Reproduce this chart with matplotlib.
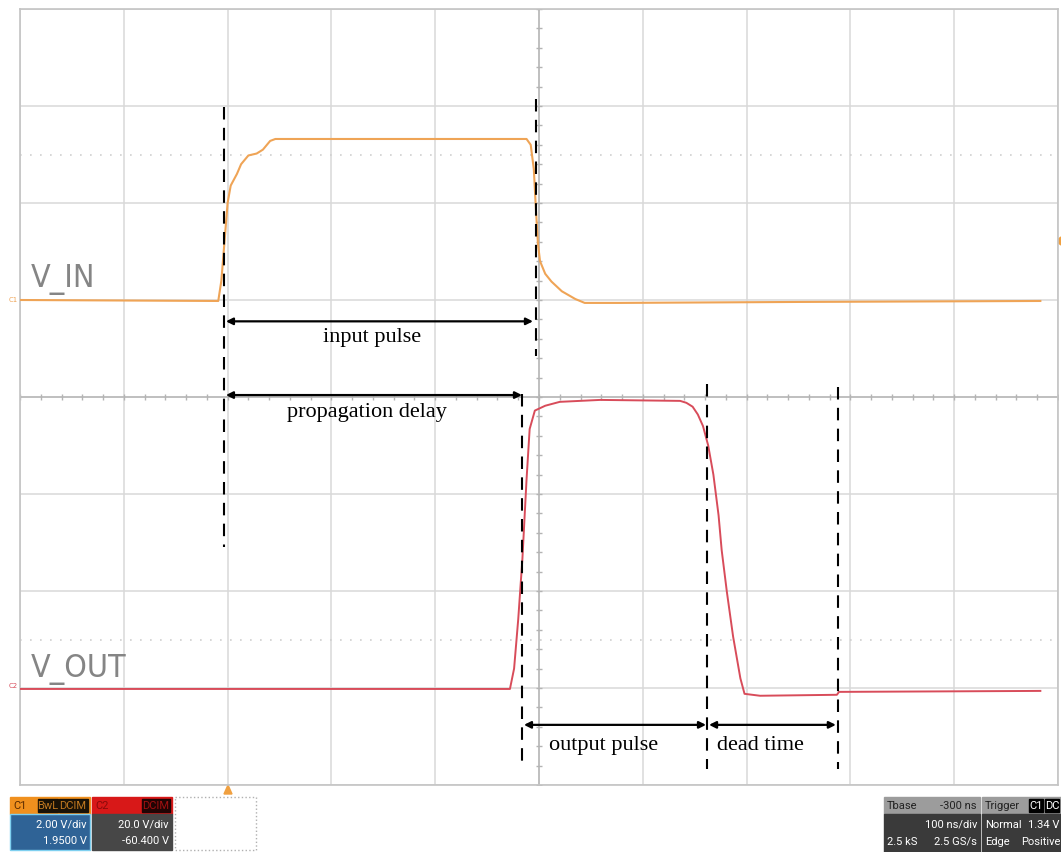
import numpy as np
import matplotlib.pyplot as plt
from matplotlib.patches import Rectangle, Polygon

# scope trace, time in ns (100 ns/div), level in divisions
vin_t = [-500, -309, -306, -303, -300, -297, -291, -287, -280, -272, -266, -259, -254,
         -12, -8, -5, -3, -1, 1, 6, 12, 22, 35, 44, 78, 251, 483]
vin_v = [1.0, 0.99, 1.2, 1.6, 2.0, 2.18, 2.3, 2.4, 2.49, 2.51, 2.55, 2.64, 2.66,
         2.66, 2.60, 2.35, 1.94, 1.58, 1.40, 1.27, 1.19, 1.09, 1.01, 0.97, 0.97, 0.98, 0.99]

vout_t = [-500, -28, -24, -20, -16, -12, -9, -4, 6, 20, 59, 136, 142, 148, 153, 158,
          163, 168, 173, 176, 181, 187, 194, 198, 213, 287, 289, 483]
vout_v = [-3.01, -3.01, -2.80, -2.29, -1.67, -0.85, -0.33, -0.14, -0.09, -0.05, -0.03,
          -0.04, -0.06, -0.10, -0.18, -0.30, -0.50, -0.80, -1.22, -1.58, -2.01, -2.47,
          -2.90, -3.06, -3.08, -3.07, -3.04, -3.03]

# dashed markers: (time, y from, y to)
markers = [(-303.5, 2.99, -1.55), (-2.9, 3.07, 0.42), (-16.4, 0.03, -3.84),
           (161.8, 0.13, -3.84), (288, 0.10, -3.84)]
# measurement arrows: (t start, t end, level, label, label t, label level)
spans = [(-301.6, -5.8, 0.78, 'input pulse', -161, 0.62),
         (-301.6, -16.4, 0.02, 'propagation delay', -166, -0.15),
         (-14.5, 160.9, -3.38, 'output pulse', 62, -3.58),
         (163.8, 286, -3.38, 'dead time', 213, -3.58)]

W, H = 1061, 853
fig = plt.figure(figsize=(W / 100, H / 100), dpi=100)
ax = fig.add_axes([20 / W, 1 - 786 / H, 1038 / W, 776 / H])
ax.set_xlim(-500, 500)
ax.set_ylim(-4, 4)
ax.set_xticks(np.arange(-500, 501, 100))
ax.set_yticks(np.arange(-4, 5, 1))
ax.grid(color='#d8d8d8', lw=1.1)
ax.tick_params(length=0, labelbottom=False, labelleft=False)
for s in ax.spines.values():
    s.set_color('#c4c4c4')
    s.set_linewidth(1.2)

# center axes with minor ticks
ax.axhline(0, color='#bdbdbd', lw=1.3)
ax.axvline(0, color='#bdbdbd', lw=1.3)
ax.plot(np.arange(-500, 501, 20), np.zeros(51), ls='none', marker='|', ms=5, color='#b4b4b4')
ax.plot(np.zeros(41), np.arange(-4, 4.01, 0.2), ls='none', marker='_', ms=5, color='#b4b4b4')
for lv in (2.5, -2.5):
    ax.axhline(lv, color='#d0d0d0', lw=1.2, ls=(0, (1, 5)))

ax.plot(vin_t, vin_v, color='#efa456', lw=1.5, zorder=3)
ax.plot(vout_t, vout_v, color='#d84c5a', lw=1.4, zorder=3)

for t, a, b in markers:
    ax.plot([t, t], [a, b], color='black', lw=1.5, ls=(0, (6, 4)), zorder=4)

for t0, t1, lv, label, tx, ty in spans:
    ax.annotate('', xy=(t1, lv), xytext=(t0, lv),
                arrowprops=dict(arrowstyle='<|-|>', color='black', lw=1.6,
                                mutation_scale=10, shrinkA=0, shrinkB=0), zorder=5)
    ax.text(tx, ty, label, ha='center', va='center', fontsize=16,
            family='Liberation Serif', zorder=5)

ax.text(-490, 1.22, 'V_IN', fontsize=23, color='#858585', va='center',
        family='DejaVu Sans', fontstretch='condensed')
ax.text(-490, -2.8, 'V_OUT', fontsize=23, color='#858585', va='center',
        family='DejaVu Sans', fontstretch='condensed')

# overlay in pixels for the scope status panels
ov = fig.add_axes([0, 0, 1, 1], zorder=-1)
ov.set_xlim(0, W)
ov.set_ylim(H, 0)
ov.axis('off')

ov.text(9, 300, 'C1', fontsize=5, color='#efa456', ha='left', va='center')
ov.text(9, 686, 'C2', fontsize=5, color='#d84c5a', ha='left', va='center')
ov.add_patch(Polygon([[224, 795], [232, 795], [228, 786]], color='#f0a040'))
ov.add_patch(Polygon([[1061, 238], [1061, 246], [1056, 242]], color='#f0a040'))

small = dict(fontsize=8, family='Roboto', va='center')

# C1 panel
ov.add_patch(Rectangle((10, 798), 80, 17, color='#f0901e'))
ov.add_patch(Rectangle((10, 815), 80, 36, color='#2f6396', ec='#7fd0f0', lw=1))
ov.add_patch(Rectangle((38, 800), 20, 13, color='#1a1206'))
ov.add_patch(Rectangle((59, 800), 29, 13, color='#1a1206'))
ov.text(13, 806, 'C1', color='#5a2a00', **small)
ov.text(48, 806, 'BwL', color='#c07820', ha='center', **small)
ov.text(73, 806, 'DCIM', color='#c07820', ha='center', **small)
ov.text(87, 825, '2.00 V/div', color='white', ha='right', **small)
ov.text(87, 841, '1.9500 V', color='white', ha='right', **small)

# C2 panel
ov.add_patch(Rectangle((92, 798), 80, 17, color='#d81818'))
ov.add_patch(Rectangle((92, 815), 80, 36, color='#474747'))
ov.add_patch(Rectangle((142, 800), 28, 13, color='#200404'))
ov.text(95, 806, 'C2', color='#8a0a0a', **small)
ov.text(156, 806, 'DCIM', color='#a01010', ha='center', **small)
ov.text(169, 825, '20.0 V/div', color='white', ha='right', **small)
ov.text(169, 841, '-60.400 V', color='white', ha='right', **small)
ov.add_patch(Rectangle((175, 798), 81, 53, fill=False, ec='#b0b0b0', lw=1, ls=':'))

# timebase and trigger panels
ov.add_patch(Rectangle((884, 798), 96, 17, color='#9c9c9c'))
ov.add_patch(Rectangle((884, 815), 96, 38, color='#3a3a3a'))
ov.text(887, 806, 'Tbase', color='#222222', **small)
ov.text(977, 806, '-300 ns', color='#222222', ha='right', **small)
ov.text(977, 825, '100 ns/div', color='white', ha='right', **small)
ov.text(887, 842, '2.5 kS', color='white', **small)
ov.text(977, 842, '2.5 GS/s', color='white', ha='right', **small)

ov.add_patch(Rectangle((982, 798), 79, 17, color='#9c9c9c'))
ov.add_patch(Rectangle((982, 815), 79, 38, color='#3a3a3a'))
ov.add_patch(Rectangle((1029, 800), 14, 13, color='black'))
ov.add_patch(Rectangle((1045, 800), 14, 13, color='black'))
ov.text(985, 806, 'Trigger', color='#222222', **small)
ov.text(1036, 806, 'C1', color='white', ha='center', **small)
ov.text(1052, 806, 'DC', color='white', ha='center', **small)
ov.text(985, 825, 'Normal', color='white', **small)
ov.text(1060, 825, '1.34 V', color='white', ha='right', **small)
ov.text(985, 842, 'Edge', color='white', **small)
ov.text(1060, 842, 'Positive', color='white', ha='right', **small)

fig.savefig('out.png', dpi=100)
